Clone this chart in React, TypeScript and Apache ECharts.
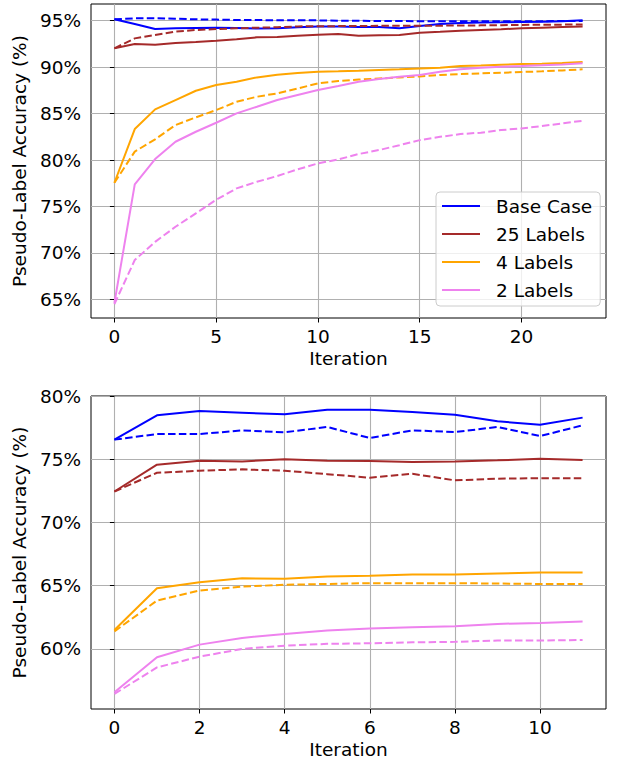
import React, { useEffect, useRef } from "react";
import * as echarts from "echarts";

// ---- Data ----
const topIterations = Array.from({ length: 24 }, (_, i) => i);
const bottomIterations = Array.from({ length: 12 }, (_, i) => i);

const topXTicks = [0, 5, 10, 15, 20];
const topYTicks = [65, 70, 75, 80, 85, 90, 95];
const bottomXTicks = [0, 2, 4, 6, 8, 10];
const bottomYTicks = [60, 65, 70, 75, 80];

const legendNames = ["Base Case", "25 Labels", "4 Labels", "2 Labels"];

// Top panel
const baseTopSolid = [95.15, 94.64, 94.1, 94.18, 94.22, 94.25, 94.22, 94.15, 94.2, 94.3, 94.39, 94.39, 94.33, 94.33, 94.18, 94.43, 94.64, 94.75, 94.8, 94.83, 94.87, 94.9, 94.95, 95.04];
const baseTopDashed = [95.15, 95.26, 95.26, 95.22, 95.15, 95.12, 95.08, 95.08, 95.04, 95.04, 95.04, 95.0, 95.0, 94.97, 94.97, 94.95, 94.95, 94.93, 94.93, 94.93, 94.95, 94.95, 94.97, 94.97];
const l25TopSolid = [92.03, 92.49, 92.42, 92.6, 92.71, 92.85, 93.0, 93.21, 93.24, 93.39, 93.5, 93.57, 93.39, 93.44, 93.46, 93.71, 93.8, 93.92, 94.0, 94.08, 94.18, 94.25, 94.32, 94.39];
const l25TopDashed = [92.03, 93.1, 93.46, 93.82, 94.0, 94.1, 94.18, 94.25, 94.3, 94.39, 94.4, 94.42, 94.43, 94.45, 94.46, 94.46, 94.47, 94.48, 94.5, 94.52, 94.55, 94.57, 94.58, 94.6];
const l4TopSolid = [77.56, 83.34, 85.46, 86.46, 87.46, 88.08, 88.43, 88.9, 89.19, 89.37, 89.51, 89.55, 89.62, 89.7, 89.77, 89.87, 89.94, 90.12, 90.19, 90.27, 90.34, 90.38, 90.45, 90.55];
const l4TopDashed = [77.56, 80.91, 82.23, 83.77, 84.6, 85.38, 86.28, 86.82, 87.18, 87.7, 88.26, 88.5, 88.66, 88.78, 88.9, 89.0, 89.15, 89.25, 89.33, 89.4, 89.48, 89.55, 89.65, 89.77];
const l2TopSolid = [64.63, 77.38, 80.11, 81.97, 83.05, 84.02, 85.03, 85.74, 86.46, 87.0, 87.54, 87.97, 88.43, 88.72, 88.97, 89.15, 89.51, 89.77, 89.94, 90.05, 90.12, 90.2, 90.3, 90.41];
const l2TopDashed = [64.5, 69.24, 71.2, 72.82, 74.26, 75.73, 76.95, 77.66, 78.28, 79.0, 79.64, 80.07, 80.65, 81.08, 81.6, 82.15, 82.5, 82.8, 82.95, 83.23, 83.41, 83.66, 83.95, 84.23];

// Bottom panel
const baseBotSolid = [76.55, 78.47, 78.81, 78.68, 78.55, 78.92, 78.92, 78.73, 78.52, 78.0, 77.73, 78.29];
const baseBotDashed = [76.55, 76.99, 76.99, 77.28, 77.13, 77.55, 76.68, 77.28, 77.15, 77.55, 76.83, 77.68];
const l25BotSolid = [72.45, 74.57, 74.88, 74.83, 74.99, 74.88, 74.86, 74.78, 74.83, 74.91, 75.04, 74.94];
const l25BotDashed = [72.45, 73.93, 74.09, 74.2, 74.09, 73.82, 73.54, 73.85, 73.33, 73.46, 73.5, 73.5];
const l4BotSolid = [61.5, 64.8, 65.27, 65.59, 65.54, 65.72, 65.78, 65.88, 65.88, 65.96, 66.04, 66.04];
const l4BotDashed = [61.39, 63.82, 64.62, 64.93, 65.07, 65.14, 65.2, 65.2, 65.2, 65.17, 65.14, 65.14];
const l2BotSolid = [56.57, 59.34, 60.34, 60.87, 61.19, 61.45, 61.61, 61.71, 61.79, 61.98, 62.06, 62.16];
const l2BotDashed = [56.44, 58.54, 59.39, 60.0, 60.26, 60.4, 60.45, 60.52, 60.56, 60.66, 60.66, 60.71];

const colors = ["#0000ff", "#a52a2a", "#ffa500", "#ee82ee"];

const FONT = "DejaVu Sans";

export default function App() {
  const ref = useRef<HTMLDivElement>(null);

  useEffect(() => {
    document.body.style.margin = "0";
    if (!ref.current) return;
    const chart = echarts.init(ref.current, undefined, { renderer: "svg" });

    const topSolid = [baseTopSolid, l25TopSolid, l4TopSolid, l2TopSolid];
    const topDashed = [baseTopDashed, l25TopDashed, l4TopDashed, l2TopDashed];
    const botSolid = [baseBotSolid, l25BotSolid, l4BotSolid, l2BotSolid];
    const botDashed = [baseBotDashed, l25BotDashed, l4BotDashed, l2BotDashed];

    const mk = (name: string, xs: number[], ys: number[], color: string, dashed: boolean, idx: number) => ({
      type: "line",
      name,
      xAxisIndex: idx,
      yAxisIndex: idx,
      data: xs.map((x, i) => [x, ys[i]]),
      symbol: "none",
      lineStyle: { color, width: 2, type: dashed ? [7.5, 3.3] : "solid" },
      itemStyle: { color },
      emphasis: { disabled: true },
    });

    const series: any[] = [];
    legendNames.forEach((n, k) => {
      series.push(mk(n, topIterations, topSolid[k], colors[k], false, 0));
      series.push(mk(n + " (dashed)", topIterations, topDashed[k], colors[k], true, 0));
      series.push(mk(n + " ", bottomIterations, botSolid[k], colors[k], false, 1));
      series.push(mk(n + " (dashed) ", bottomIterations, botDashed[k], colors[k], true, 1));
    });

    const tickFont = { fontFamily: FONT, fontSize: 18.5, color: "#000" };
    const titleFont = { fontFamily: FONT, fontSize: 18.5, color: "#000" };
    const splitLine = { show: true, lineStyle: { color: "#b0b0b0", width: 1.1 } };
    const tick = (vals: number[]) => ({ show: true, customValues: vals, length: 4.5, lineStyle: { color: "#000", width: 1 } });

    const xAxis = (gi: number, min: number, max: number, ticks: number[]) => ({
      type: "value",
      gridIndex: gi,
      min,
      max,
      name: "Iteration",
      nameLocation: "middle",
      nameGap: 31,
      nameTextStyle: { ...titleFont },
      axisLine: { show: false },
      axisTick: tick(ticks),
      axisLabel: { ...tickFont, customValues: ticks, margin: 9 },
      splitLine,
    });
    const yAxis = (gi: number, min: number, max: number, ticks: number[]) => ({
      type: "value",
      gridIndex: gi,
      min,
      max,
      name: "Pseudo-Label Accuracy (%)",
      nameLocation: "middle",
      nameGap: 53,
      nameTextStyle: { ...titleFont },
      axisLine: { show: false },
      axisTick: tick(ticks),
      axisLabel: { ...tickFont, customValues: ticks, margin: 10, formatter: (v: number) => `${v}%` },
      splitLine,
    });

    chart.setOption({
      animation: false,
      grid: [
        { left: 91, top: 4, width: 515, height: 314, show: true, borderColor: "#000", borderWidth: 1, backgroundColor: "transparent" },
        { left: 91, top: 396, width: 515, height: 313, show: true, borderColor: "#000", borderWidth: 1, backgroundColor: "transparent" },
      ],
      xAxis: [xAxis(0, -1.15, 24.15, topXTicks), xAxis(1, -0.55, 11.55, bottomXTicks)],
      yAxis: [yAxis(0, 63.0, 96.8, topYTicks), yAxis(1, 55.25, 80.0, bottomYTicks)],
      legend: {
        data: legendNames,
        orient: "vertical",
        left: 436,
        top: 192,
        icon: "rect",
        itemWidth: 38,
        itemHeight: 2,
        itemGap: 6,
        padding: [3, 8, 5, 6],
        backgroundColor: "rgba(255,255,255,0.8)",
        borderColor: "#cccccc",
        borderWidth: 1,
        borderRadius: 4,
        selectedMode: false,
        textStyle: { ...tickFont, padding: [0, 0, 0, 11], lineHeight: 22 },
      },
      series,
    });

    return () => chart.dispose();
  }, []);

  return <div ref={ref} style={{ width: 618, height: 762 }} />;
}
